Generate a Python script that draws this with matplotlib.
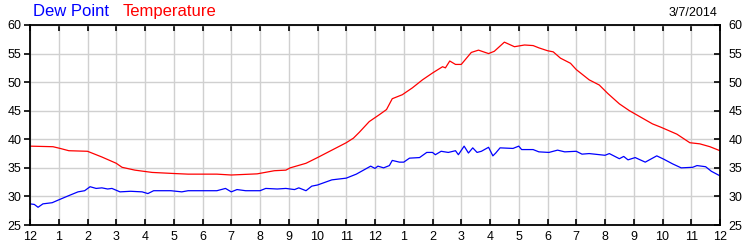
import matplotlib
matplotlib.use('Agg')
import matplotlib.pyplot as plt

# hours since midnight
temp_hours = [0, 0.8, 1.05, 1.35, 2.0, 2.5, 3.0, 3.2, 3.65, 4.25, 5.05, 5.5, 6.1, 6.5, 7.0,
              7.9, 8.5, 8.9, 9.05, 9.6, 10.0, 10.5, 11.0, 11.25, 11.45, 11.8, 12.15, 12.4,
              12.6, 12.95, 13.3, 13.65, 14.0, 14.35, 14.45, 14.6, 14.8, 15.0, 15.35, 15.6,
              15.95, 16.15, 16.5, 16.85, 17.2, 17.5, 17.7, 18.0, 18.2, 18.45, 18.8, 19.0,
              19.45, 19.8, 20.1, 20.5, 20.85, 21.25, 21.65, 21.95, 22.5, 22.95, 23.3,
              23.65, 24.0]
temperature = [38.8, 38.7, 38.4, 38.0, 37.9, 36.9, 35.8, 35.1, 34.6, 34.2, 34.0, 33.9, 33.9,
               33.9, 33.75, 33.95, 34.5, 34.6, 35.0, 35.8, 36.8, 38.1, 39.4, 40.2, 41.2,
               43.1, 44.3, 45.2, 47.1, 47.8, 49.0, 50.4, 51.6, 52.7, 52.5, 53.7, 53.1, 53.1,
               55.2, 55.6, 55.0, 55.4, 57.0, 56.2, 56.5, 56.4, 56.0, 55.5, 55.3, 54.2, 53.3,
               52.2, 50.4, 49.5, 48.0, 46.2, 45.0, 43.85, 42.7, 42.1, 40.9, 39.4, 39.2,
               38.7, 38.0]

dew_hours = [0, 0.15, 0.28, 0.45, 0.77, 1.0, 1.33, 1.67, 1.9, 2.09, 2.3, 2.5, 2.7, 2.85, 3.13,
             3.5, 3.9, 4.1, 4.3, 4.45, 4.9, 5.28, 5.5, 6.0, 6.5, 6.8, 7.0, 7.2, 7.5, 8.0,
             8.2, 8.6, 8.9, 9.2, 9.35, 9.6, 9.8, 10.0, 10.5, 11.0, 11.2, 11.35, 11.6, 11.85,
             12.0, 12.1, 12.3, 12.5, 12.6, 12.85, 13.0, 13.2, 13.55, 13.8, 14.0, 14.1, 14.3,
             14.55, 14.8, 14.9, 15.1, 15.25, 15.4, 15.55, 15.7, 15.95, 16.1, 16.2, 16.35,
             16.8, 17.0, 17.1, 17.5, 17.7, 18.05, 18.35, 18.6, 19.0, 19.2, 19.45, 20.0,
             20.15, 20.5, 20.65, 20.8, 21.05, 21.4, 21.8, 22.05, 22.35, 22.65, 23.05, 23.2,
             23.5, 23.7, 24.0]
dew_point = [28.7, 28.6, 28.1, 28.7, 28.9, 29.4, 30.1, 30.8, 31.0, 31.7, 31.4, 31.5, 31.3,
             31.4, 30.8, 30.9, 30.8, 30.5, 31.0, 31.0, 31.0, 30.8, 31.0, 31.0, 31.0, 31.4,
             30.8, 31.2, 31.0, 31.0, 31.4, 31.3, 31.4, 31.2, 31.5, 31.0, 31.8, 32.0, 32.9,
             33.2, 33.6, 33.9, 34.6, 35.3, 34.9, 35.3, 35.0, 35.4, 36.3, 36.0, 36.0, 36.7,
             36.8, 37.7, 37.7, 37.3, 37.9, 37.7, 38.0, 37.3, 38.8, 37.6, 38.5, 37.7, 37.9,
             38.6, 37.1, 37.6, 38.5, 38.4, 38.8, 38.2, 38.2, 37.8, 37.7, 38.1, 37.8, 37.9,
             37.4, 37.5, 37.2, 37.5, 36.6, 37.0, 36.4, 36.8, 36.0, 37.1, 36.5, 35.7, 35.0,
             35.1, 35.4, 35.2, 34.4, 33.6]

hour_ticks = list(range(0, 25))
hour_labels = ['12', '1', '2', '3', '4', '5', '6', '7', '8', '9', '10', '11',
               '12', '1', '2', '3', '4', '5', '6', '7', '8', '9', '10', '11', '12']
y_ticks = [25, 30, 35, 40, 45, 50, 55, 60]

plt.rcParams['font.family'] = ['Liberation Sans', 'DejaVu Sans']

fig = plt.figure(figsize=(7.5, 2.5), dpi=100)
ax = fig.add_axes([0.04, 0.1, 0.92, 0.8])

ax.plot(dew_hours, dew_point, color='#0000ff', linewidth=0.9)
ax.plot(temp_hours, temperature, color='#ff0000', linewidth=0.9)

ax.set_xlim(0, 24)
ax.set_ylim(25, 60)
ax.set_xticks(hour_ticks)
ax.set_xticklabels(hour_labels)
ax.set_yticks(y_ticks)
ax.grid(True, color='#d0d0d0', linewidth=1)
ax.set_axisbelow(True)

for s in ax.spines.values():
    s.set_linewidth(1.3)

ax.tick_params(axis='x', direction='in', top=True, length=4, width=1.2,
               labelsize=9, pad=4)
ax.tick_params(axis='y', left=True, right=True, labelright=True, length=4,
               width=1.2, labelsize=9, pad=2)
ax.tick_params(axis='y', which='major', direction='out')
for t in ax.yaxis.get_major_ticks():
    t.tick2line.set_marker(matplotlib.lines.TICKLEFT)

fig.text(0.044, 0.985, 'Dew Point', color='#0000ff', fontsize=12, va='top')
fig.text(0.164, 0.985, 'Temperature', color='#ff0000', fontsize=12, va='top')
fig.text(0.956, 0.97, '3/7/2014', color='black', fontsize=9, va='top', ha='right')

fig.savefig('out.png', dpi=100)
